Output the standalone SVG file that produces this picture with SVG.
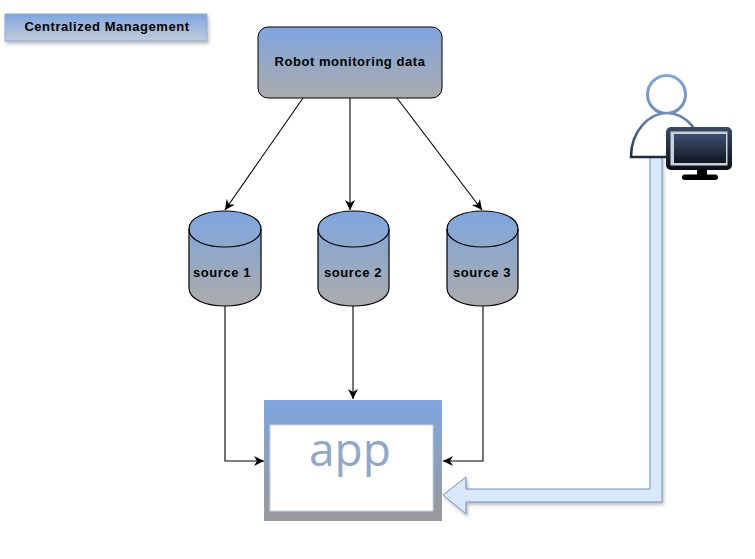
<svg xmlns="http://www.w3.org/2000/svg" width="755" height="559" viewBox="0 0 755 559">
<style>
text{font-family:"Liberation Sans",Arial,sans-serif;font-weight:bold;font-size:13px;letter-spacing:.55px;fill:#000;text-anchor:middle}
.c{fill:none;stroke:#000;stroke-width:1.1;marker-end:url(#a)}
.k{stroke:#000;stroke-width:1.2}
</style>
<defs>
<linearGradient id="g" x1="0" y1="0" x2="0" y2="1"><stop offset="0" stop-color="#7ea6e0"/><stop offset="1" stop-color="#ababab"/></linearGradient>
<linearGradient id="b" x1="0" y1="0" x2="0" y2="1"><stop offset="0" stop-color="#7ea6e0"/><stop offset="1" stop-color="#999"/></linearGradient>
<linearGradient id="t" x1="0" y1="0" x2="0" y2="1"><stop offset="0" stop-color="#7ea6e0"/><stop offset="1" stop-color="#c4ccd8"/></linearGradient>
<linearGradient id="p" x1="0" y1="0" x2="0" y2="1"><stop offset="0" stop-color="#6c8ebf"/><stop offset="1" stop-color="#1c2a40"/></linearGradient>
<linearGradient id="h" x1="0" y1="0" x2="0" y2="1"><stop offset="0" stop-color="#7ea6e0"/><stop offset="1" stop-color="#6f8db5"/></linearGradient>
<linearGradient id="s" x1="0" y1="0" x2="0" y2="1"><stop offset="0" stop-color="#3e5070"/><stop offset="1" stop-color="#10161f"/></linearGradient>
<linearGradient id="f" x1="0" y1="0" x2="0" y2="1"><stop offset="0" stop-color="#3a4a64"/><stop offset="1" stop-color="#0b0f16"/></linearGradient>
<filter id="d" x="-10%" y="-20%" width="125%" height="150%"><feDropShadow dx="1.5" dy="2.5" stdDeviation="1.5" flood-color="#000" flood-opacity="0.25"/></filter>
<marker id="a" markerWidth="12" markerHeight="12" refX="10" refY="6" orient="auto" markerUnits="userSpaceOnUse"><path d="M0 1 L10 6 L0 11 L3 6Z" fill="#000"/></marker>
</defs>
<rect width="755" height="559" fill="#fff"/>
<g id="title"><rect x="5" y="14" width="202" height="27" fill="url(#t)" stroke="#8aa8d4" stroke-width="1" filter="url(#d)"/><text x="107" y="31">Centralized Management</text></g>
<g id="connectors">
<path class="c" d="M303 98 L225 210"/>
<path class="c" d="M350 98 L350 210"/>
<path class="c" d="M397 98 L482 210"/>
<path class="c" d="M225 306 V461 H264"/>
<path class="c" d="M353 306 V399"/>
<path class="c" d="M483 306 V461 H443"/>
<path d="M650 156 V489 H466 V477 L443 495 L466 514 V502 H662 V156 Z" fill="#dae8fc" stroke="#6c8ebf" stroke-width="1" filter="url(#d)"/>
</g>
<g id="robot"><rect x="258" y="27" width="184" height="71" rx="10" fill="url(#g)" stroke="#000"/><text x="350" y="66">Robot monitoring data</text></g>
<g id="source1"><path d="M189 229 C189 205 261 205 261 229 V288 C261 312 189 312 189 288 Z" fill="url(#g)" class="k"/><path d="M189 229 C189 253 261 253 261 229" fill="none" class="k"/><text x="222" y="277">source 1</text></g>
<g id="source2"><path d="M318 229 C318 205 389 205 389 229 V288 C389 312 318 312 318 288 Z" fill="url(#g)" class="k"/><path d="M318 229 C318 253 389 253 389 229" fill="none" class="k"/><text x="353" y="277">source 2</text></g>
<g id="source3"><path d="M447 229 C447 205 518 205 518 229 V288 C518 312 447 312 447 288 Z" fill="url(#g)" class="k"/><path d="M447 229 C447 253 518 253 518 229" fill="none" class="k"/><text x="482" y="277">source 3</text></g>
<g id="app"><path fill-rule="evenodd" d="M264 400 H442 V521 H264 Z M270 425 V511 H433 V425 Z" fill="url(#b)"/><rect x="270" y="425" width="163" height="86" fill="#fff" stroke="#c8d4e6" stroke-width="1"/><text x="350" y="466" style="font-family:'Open Sans','Noto Sans',sans-serif;font-weight:normal;font-size:46px;letter-spacing:0;fill:#8fa8c8">app</text></g>
<g id="user">
<circle cx="666.5" cy="94.5" r="19" fill="#fff" stroke="url(#h)" stroke-width="3"/>
<path d="M631 157 C631 130 650 113 667 113 C684 113 703 130 703 157 Z" fill="#fff" stroke="url(#p)" stroke-width="2.5"/>
<rect x="666" y="127" width="66" height="43" rx="5" fill="url(#f)"/>
<rect x="670.5" y="131.5" width="57" height="34" fill="#c9d1dc"/>
<rect x="674" y="134" width="52" height="29" fill="url(#s)"/>
<rect x="697" y="169" width="10" height="6" fill="#000"/>
<rect x="682" y="174.5" width="36" height="5.5" rx="2.7" fill="#000"/>
</g>
</svg>
